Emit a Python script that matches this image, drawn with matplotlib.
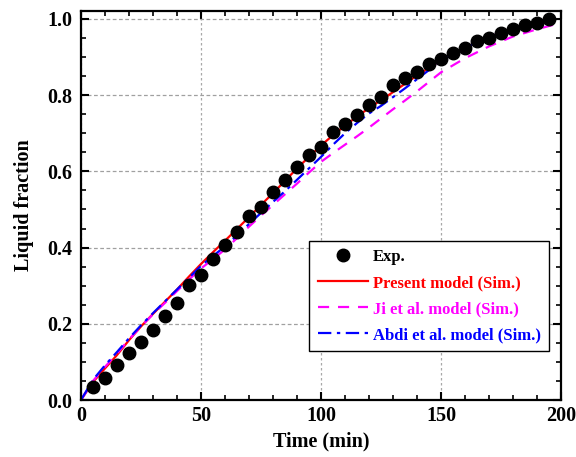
import numpy as np
import matplotlib.pyplot as plt
from matplotlib.ticker import MultipleLocator

plt.rcParams['font.family'] = ['Liberation Serif', 'DejaVu Serif']
plt.rcParams['font.weight'] = 'bold'

# Experimental data
t_exp = [5, 10, 15, 20, 25, 30, 35, 40, 45, 50, 55, 60, 65, 70, 75, 80, 85, 90,
         95, 100, 105, 110, 115, 120, 125, 130, 135, 140, 145, 150, 155, 160,
         165, 170, 175, 180, 185, 190, 195]
y_exp = [0.035, 0.057, 0.091, 0.123, 0.151, 0.184, 0.221, 0.255, 0.301, 0.327,
         0.371, 0.406, 0.440, 0.483, 0.507, 0.546, 0.577, 0.611, 0.643, 0.665,
         0.704, 0.724, 0.748, 0.774, 0.796, 0.827, 0.844, 0.860, 0.883, 0.895,
         0.912, 0.923, 0.943, 0.951, 0.962, 0.974, 0.984, 0.990, 1.000]

# Simulation curves
t_sim = [0, 5, 10, 15, 20, 25, 30, 35, 40, 45, 50, 55, 60, 65, 70, 75, 80, 85,
         90, 95, 100, 105, 110, 115, 120, 125, 130, 135, 140, 145, 150, 160,
         170, 180, 190, 197]
y_present = [0.0, 0.047, 0.083, 0.118, 0.157, 0.193, 0.226, 0.258, 0.290, 0.324,
             0.357, 0.388, 0.418, 0.449, 0.480, 0.512, 0.543, 0.575, 0.608,
             0.638, 0.668, 0.695, 0.720, 0.744, 0.766, 0.787, 0.808, 0.830,
             0.852, 0.872, 0.891, 0.925, 0.953, 0.975, 0.992, 1.000]
y_ji = [0.0, 0.050, 0.087, 0.122, 0.159, 0.193, 0.225, 0.255, 0.286, 0.316,
        0.345, 0.370, 0.395, 0.425, 0.455, 0.484, 0.512, 0.540, 0.568, 0.597,
        0.625, 0.648, 0.670, 0.692, 0.715, 0.739, 0.763, 0.786, 0.810, 0.835,
        0.860, 0.897, 0.928, 0.954, 0.973, 0.985]
y_abdi = [0.0, 0.053, 0.091, 0.126, 0.162, 0.196, 0.228, 0.259, 0.290, 0.321,
          0.352, 0.378, 0.403, 0.432, 0.462, 0.491, 0.520, 0.548, 0.578,
          0.608, 0.638, 0.670, 0.700, 0.727, 0.752, 0.772, 0.795, 0.818,
          0.842, 0.866, 0.890, 0.925, 0.953, 0.975, 0.992, 1.000]

fig = plt.figure(figsize=(5.76, 4.57), dpi=100)
ax = fig.add_axes([0.1406, 0.1247, 0.8334, 0.8513])

ax.plot(t_exp, y_exp, 'o', color='black', ms=9, label='Exp.', zorder=5)
ax.plot(t_sim, y_present, '-', color='red', lw=1.6, label='Present model (Sim.)')
ax.plot(t_sim, y_ji, '--', color='magenta', lw=1.6, dashes=(5, 4),
        label='Ji et al. model (Sim.)')
ax.plot(t_sim, y_abdi, '-.', color='blue', lw=1.6, dashes=(6, 2.5, 1.5, 2.5),
        label='Abdi et al. model (Sim.)')

ax.set_xlim(0, 200)
ax.set_ylim(0, 1.021)
ax.xaxis.set_major_locator(MultipleLocator(50))
ax.xaxis.set_minor_locator(MultipleLocator(10))
ax.yaxis.set_major_locator(MultipleLocator(0.2))
ax.yaxis.set_minor_locator(MultipleLocator(0.05))
ax.tick_params(which='both', direction='in', top=True, right=True, labelsize=14.5)
ax.tick_params(which='major', length=6, width=1.5)
ax.tick_params(axis='y', which='major', pad=6.5)
ax.tick_params(axis='x', which='major', pad=4)
ax.tick_params(which='minor', length=3.5, width=1.2)
for s in ax.spines.values():
    s.set_linewidth(1.6)
ax.xaxis.grid(True, which='major', color='#a8a8a8', linestyle=(0, (2, 2)), lw=0.9)
ax.yaxis.grid(True, which='major', color='#a0a0a0', linestyle=(0, (3, 2)), lw=0.9)

ax.set_xlabel('Time (min)', fontsize=14.5, fontweight='bold', labelpad=4)
ax.set_ylabel('Liquid fraction', fontsize=14.5, fontweight='bold', labelpad=9)

leg = ax.legend(loc='lower right', bbox_to_anchor=(0.975, 0.125), fontsize=12,
                fancybox=False, edgecolor='black', framealpha=1,
                handlelength=3, handletextpad=0.3, borderpad=0.5,
                labelspacing=0.6, borderaxespad=0)
leg.get_frame().set_linewidth(1.0)
for txt, c in zip(leg.get_texts(), ['black', 'red', 'magenta', 'blue']):
    txt.set_color(c)

fig.savefig('out.png', dpi=100)
